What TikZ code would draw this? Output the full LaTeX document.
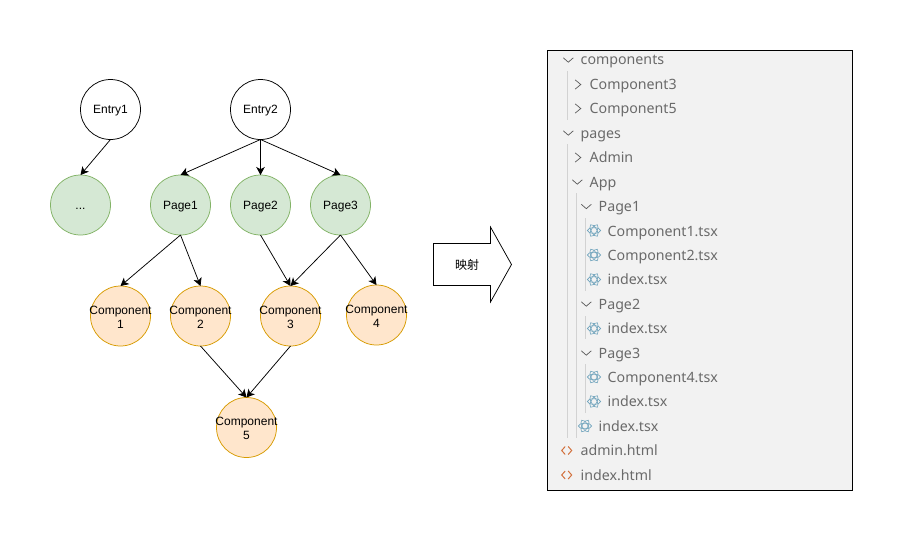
\documentclass[tikz,border=0pt]{standalone}
\usepackage{fontspec}
\setmainfont{Liberation Sans}
\newfontfamily\cjk{Noto Sans CJK SC}
\newfontfamily\treefont{Noto Sans}
\usetikzlibrary{arrows.meta}
\definecolor{pagegreen}{HTML}{D5E8D4}
\definecolor{pageedge}{HTML}{82B366}
\definecolor{compfill}{HTML}{FFE6CC}
\definecolor{compedge}{HTML}{D79B00}
\definecolor{treegray}{HTML}{6A6A6A}
\definecolor{guidegray}{HTML}{D2D2D2}
\definecolor{reactblue}{HTML}{6FA3BC}
\definecolor{htmlorange}{HTML}{D2703C}
\tikzset{
	basenode/.style={circle, draw=black, fill=white, line width=0.75pt, minimum size=60pt, inner sep=0pt, outer sep=0pt, align=center, text depth=0pt, font=\fontsize{12}{14}\selectfont},
	entrynode/.style={basenode, text height=8.6pt},
	pagenode/.style={entrynode, draw=pageedge, fill=pagegreen},
	compnode/.style={basenode, text height=24.6pt, draw=compedge, fill=compfill},
	edge/.style={-{Stealth[length=8pt,width=8.5pt,inset=2.2pt]}, line width=0.75pt, black},
	treerow/.style={anchor=base west, inner sep=0pt, text=treegray, font=\treefont\fontsize{14.2}{16}\selectfont},
	guide/.style={line width=0.8pt, guidegray},
	chev/.style={line width=0.7pt, black!65},
}
\newcommand{\zlabel}[1]{\makebox[0pt]{#1}}
\def\chevdown(#1,#2){\draw[chev] (#1-5, #2-2.2) -- (#1, #2+2.2) -- (#1+5, #2-2.2);}
\def\chevright(#1,#2){\draw[chev] (#1-2.8, #2-4.6) -- (#1+2.8, #2) -- (#1-2.8, #2+4.6);}
\def\reacticon(#1,#2){\foreach \rot in {0,60,120} \draw[reactblue, line width=0.6pt, rotate around={\rot:(#1,#2)}] (#1,#2) ellipse [x radius=6.6, y radius=2.8];}
\def\htmlicon(#1,#2){\draw[htmlorange, line width=1pt] (#1-1.5, #2-4) -- (#1-5, #2) -- (#1-1.5, #2+4); \draw[htmlorange, line width=1pt] (#1+1.5, #2-4) -- (#1+5, #2) -- (#1+1.5, #2+4);}

\begin{document}
\begin{tikzpicture}[x=1pt, y=-1pt]
	%%%%% START %%%%%
	\useasboundingbox (0, 0) rectangle (903, 541);
	
	\node[entrynode] (entry1) at (110.5, 109.5) {Entry1};
	\node[entrynode] (entry2) at (260.5, 109.5) {Entry2};
	
	\node[pagenode] (dots) at (80.5, 205) {...};
	\node[pagenode] (page1) at (180.5, 205) {Page1};
	\node[pagenode] (page2) at (260.5, 205) {Page2};
	\node[pagenode] (page3) at (340.5, 205) {Page3};
	
	\node[compnode] (comp1) at (120.5, 316) {\zlabel{Component}\\\zlabel{1}};
	\node[compnode] (comp2) at (200.5, 316) {\zlabel{Component}\\\zlabel{2}};
	\node[compnode] (comp3) at (290.5, 316) {\zlabel{Component}\\\zlabel{3}};
	\node[compnode] (comp4) at (376.5, 315) {\zlabel{Component}\\\zlabel{4}};
	\node[compnode] (comp5) at (246.5, 427.5) {\zlabel{Component}\\\zlabel{5}};
	
	\draw[edge] (entry1.south) -- (dots.north);
	\draw[edge] (entry2.south) -- (page1.north);
	\draw[edge] (entry2.south) -- (page2.north);
	\draw[edge] (entry2.south) -- (page3.north);
	\draw[edge] (page1.south) -- (comp1.north);
	\draw[edge] (page1.south) -- (comp2.north);
	\draw[edge] (page2.south) -- (comp3.north);
	\draw[edge] (page3.south) -- (comp3.north);
	\draw[edge] (page3.south) -- (comp4.north);
	\draw[edge] (comp2.south) -- (comp5.north);
	\draw[edge] (comp3.south) -- (comp5.north);
	
	\draw[line width=0.75pt, fill=white] (433.5, 243.5) -- (490.5, 243.5) -- (490.5, 227) -- (511.5, 264.5) -- (490.5, 302) -- (490.5, 285.5) -- (433.5, 285.5) -- cycle;
	\node[font=\cjk\fontsize{12}{14}\selectfont] (maplabel) at (467, 264.5) {映射};
	
	\draw[line width=0.75pt, fill=black!5] (547.5, 50.5) rectangle (852.5, 490.5);
	
	\draw[guide] (567.5, 71) -- (567.5, 120);
	\draw[guide] (567.5, 144) -- (567.5, 438);
	\draw[guide] (576.5, 193) -- (576.5, 438);
	\draw[guide] (585.5, 218) -- (585.5, 291);
	\draw[guide] (585.5, 316) -- (585.5, 339);
	\draw[guide] (585.5, 364) -- (585.5, 413);
	
	\chevdown(568.3, 60);
	\node[treerow] (row1) at (580.5, 64.5) {components};
	\chevright(578, 84.5);
	\node[treerow] (row2) at (589.5, 89) {Component3};
	\chevright(578, 108.5);
	\node[treerow] (row3) at (589.5, 113.5) {Component5};
	\chevdown(568.3, 133);
	\node[treerow] (row4) at (580.5, 138) {pages};
	\chevright(578, 157.5);
	\node[treerow] (row5) at (589.5, 162) {Admin};
	\chevdown(577.3, 182);
	\node[treerow] (row6) at (589.5, 187) {App};
	\chevdown(586.3, 206.5);
	\node[treerow] (row7) at (598.5, 211.5) {Page1};
	\reacticon(594, 230.5);
	\node[treerow] (row8) at (607.5, 236) {Component1.tsx};
	\reacticon(594, 255);
	\node[treerow] (row9) at (607.5, 260) {Component2.tsx};
	\reacticon(594, 279.5);
	\node[treerow] (row10) at (607.5, 284.5) {index.tsx};
	\chevdown(586.3, 304);
	\node[treerow] (row11) at (598.5, 309) {Page2};
	\reacticon(594, 328.5);
	\node[treerow] (row12) at (607.5, 333.5) {index.tsx};
	\chevdown(586.3, 353);
	\node[treerow] (row13) at (598.5, 358) {Page3};
	\reacticon(594, 377);
	\node[treerow] (row14) at (607.5, 382.5) {Component4.tsx};
	\reacticon(594, 401.5);
	\node[treerow] (row15) at (607.5, 406.5) {index.tsx};
	\reacticon(585, 426);
	\node[treerow] (row16) at (598.5, 431) {index.tsx};
	\htmlicon(566.7, 450.5);
	\node[treerow] (row17) at (580.5, 455.5) {admin.html};
	\htmlicon(566.7, 475);
	\node[treerow] (row18) at (580.5, 480) {index.html};
	%%%%% END %%%%%
\end{tikzpicture}
\end{document}
